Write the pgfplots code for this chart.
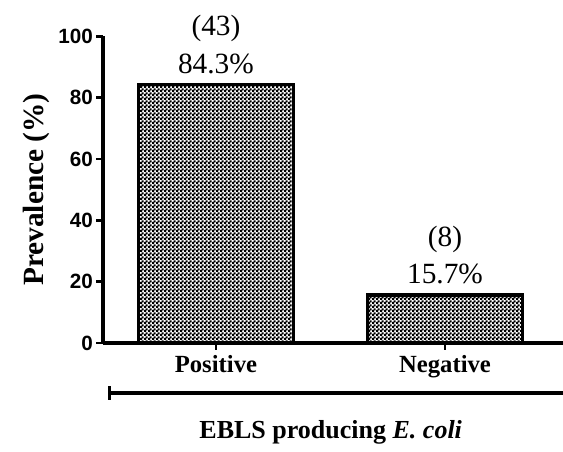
\documentclass[border=0pt]{standalone}
\usepackage{fontspec}
\setmainfont{Liberation Serif}
\newfontfamily\arialfont{Liberation Sans}
\usepackage{pgfplots}
\pgfplotsset{compat=1.18}
\usetikzlibrary{patterns}
\pgfdeclarepatternformonly{mycheck}{\pgfpointorigin}{\pgfpoint{3pt}{3pt}}{\pgfpoint{3pt}{3pt}}{%
  \pgfpathrectangle{\pgfpointorigin}{\pgfpoint{1.9pt}{1.9pt}}%
  \pgfpathrectangle{\pgfpoint{1.5pt}{1.5pt}}{\pgfpoint{1.9pt}{1.9pt}}%
  \pgfusepath{fill}}
\begin{document}
\begin{tikzpicture}
\begin{axis}[
  scale only axis,
  width=345pt, height=230pt,
  xmin=-0.493, xmax=1.515,
  ymin=0, ymax=100,
  axis x line=bottom, axis y line=left,
  axis line style={line width=2.3pt,-},
  xtick={0,1}, xticklabels={Positive,Negative},
  ytick={0,20,40,60,80,100},
  tick style={line width=1.8pt,black},
  major tick length=5pt,
  tick align=outside,
  y tick label style={font=\arialfont\bfseries\fontsize{15.5}{15.5}\selectfont, xshift=1pt},
  x tick label style={font=\bfseries\fontsize{18.5}{18.5}\selectfont, yshift=-1pt},
  /pgf/number format/assume math mode=true,
  ylabel={\bfseries Prevalence (\%)},
  ylabel style={font=\fontsize{22}{22}\selectfont, yshift=0pt},
  clip=false,
]
\addplot[ybar, bar width=0.677, draw=black, line width=2.6pt, pattern=mycheck, pattern color=black]
  coordinates {(0,84.3) (1,15.7)};
\node[font=\fontsize{22}{22}\selectfont, align=center, anchor=south, inner sep=0pt] at (axis cs:0,87.8) {(43)\\[6pt]84.3\%};
\node[font=\fontsize{22}{22}\selectfont, align=center, anchor=south, inner sep=0pt] at (axis cs:1,19.2) {(8)\\[6pt]15.7\%};
\draw[line width=2.4pt] (rel axis cs:0.015,-0.163) -- (rel axis cs:1,-0.163);
\draw[line width=2.4pt] (rel axis cs:0.015,-0.141) -- (rel axis cs:0.015,-0.185);
\node[font=\bfseries\fontsize{19.5}{19.5}\selectfont] at (rel axis cs:0.495,-0.29) {EBLS producing \textit{E. coli}};
\end{axis}
\pgfresetboundingbox
\path (-77.25pt,-81.75pt) rectangle (345pt,257.25pt);
\end{tikzpicture}
\end{document}
